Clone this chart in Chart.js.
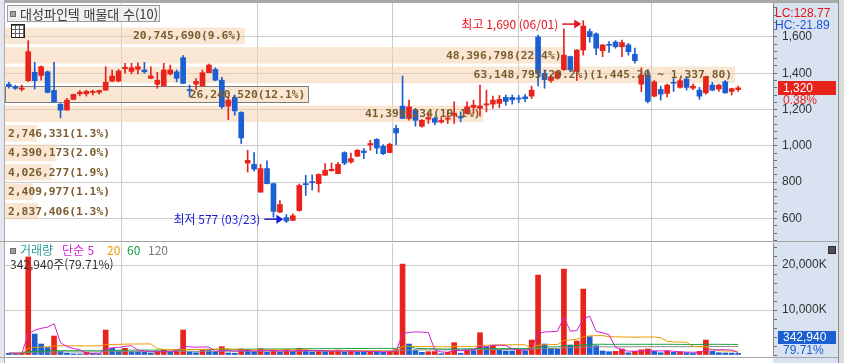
<!DOCTYPE html>
<html lang="ko">
<head>
<meta charset="utf-8">
<title>대성파인텍 매물대 수(10)</title>
<script src="https://cdn.jsdelivr.net/npm/chart.js@4"></script>
<style>
  html, body { margin: 0; padding: 0; background: #fff; }
  #wrap { position: relative; width: 844px; height: 363px; overflow: hidden; background: #fff;
    font-family: 'Noto Sans CJK KR', 'Noto Sans', sans-serif; }
  canvas { position: absolute; left: 0; }
  #price { top: 0; }
  #vol { top: 242px; }
  .abs { position: absolute; white-space: nowrap; }
  .frame-top { left: 0; top: 0; width: 844px; height: 3px; background: #a9a9a9; }
  .frame-left { left: 0; top: 0; width: 4px; height: 363px; background: #e4e7ee; border-right: 1px solid #a8acb2; }
  .frame-right { left: 838px; top: 0; width: 5px; height: 363px; background: #dadada; border-left: 1px solid #8e8e8e; }
  .sep { left: 0; width: 838px; height: 1px; background: #a4a4a4; }
  #title { left: 7px; top: 5px; height: 15px; border: 1px solid #9c9c9c; background: #f1f1f1;
    font-size: 13px; line-height: 15px; color: #3a3a3a; padding-left: 12px; width: 139px; }
  .sq { position: absolute; width: 4px; height: 4px; background: #a0a0a0; border: 1px solid #6e6e6e; }
  #gridicon { left: 11px; top: 24px; width: 12px; height: 12px; border: 1px solid #222; background-color: #fff;
    background-image: repeating-linear-gradient(90deg, transparent 0 3px, #666 3px 4px),
                      repeating-linear-gradient(0deg, transparent 0 3px, #666 3px 4px); }
  .side { font-family: 'Liberation Sans', sans-serif; font-size: 12px; line-height: 14px; }
  .leg { font-size: 12px; line-height: 14px; top: 243px; }
  .ico { width: 6px; height: 6px; background: #505050; border: 1px solid #303030; }
</style>
</head>
<body>
<div id="wrap">
  <canvas id="price" width="844" height="242"></canvas>
  <canvas id="vol" width="844" height="121"></canvas>
  <div class="abs frame-top"></div>
  <div class="abs frame-left"></div>
  <div class="abs frame-right"></div>
  <div class="abs sep" style="top:241px"></div>
  <div class="abs sep" style="top:357px"></div>

  <div id="title" class="abs"><span class="sq" style="left:2px;top:5px"></span>대성파인텍 매물대 수(10)</div>
  <div id="gridicon" class="abs"></div>

  <div class="abs side" style="left:775px;top:6px;color:#e3141c">LC:128.77</div>
  <div class="abs side" style="left:775px;top:18px;color:#1d52d9">HC:-21.89</div>

  <span class="sq" style="left:10px;top:248px"></span>
  <span class="abs leg" style="left:20px;color:#2b9b9b">거래량</span>
  <span class="abs leg" style="left:62px;color:#d21fd2">단순 5</span>
  <span class="abs leg" style="left:107px;color:#ec9a00">20</span>
  <span class="abs leg" style="left:127px;color:#18a040">60</span>
  <span class="abs leg" style="left:148px;color:#7a7a7a">120</span>
  <div id="vinfo" class="abs leg" style="left:10px;top:257px;color:#333"></div>

  <div id="vbox" class="abs side" style="left:778px;top:331px;width:53px;height:13px;line-height:13px;background:#1b5fd3;color:#fff;padding-left:5px"></div>
  <div id="vpct" class="abs side" style="left:783px;top:343px;color:#1b5fd3"></div>
  <div class="abs ico" style="left:828px;top:246px"></div>
</div>

<script>
// trading days shown (2020)
const dates = ['01/20','01/21','01/22','01/23','01/28','01/29','01/30','01/31',
  '02/03','02/04','02/05','02/06','02/07','02/10','02/11','02/12','02/13','02/14','02/17','02/18','02/19','02/20','02/21','02/24','02/25','02/26','02/27','02/28',
  '03/02','03/03','03/04','03/05','03/06','03/09','03/10','03/11','03/12','03/13','03/16','03/17','03/18','03/19','03/20','03/23','03/24','03/25','03/26','03/27','03/30','03/31',
  '04/01','04/02','04/03','04/06','04/07','04/08','04/09','04/10','04/13','04/14','04/16','04/17','04/20','04/21','04/22','04/23','04/24','04/27','04/28','04/29',
  '05/04','05/06','05/07','05/08','05/11','05/12','05/13','05/14','05/15','05/18','05/19','05/20','05/21','05/22','05/25','05/26','05/27','05/28','05/29',
  '06/01','06/02','06/03','06/04','06/05','06/08','06/09','06/10','06/11','06/12','06/15','06/16','06/17','06/18','06/19','06/22','06/23','06/24','06/25','06/26','06/29','06/30',
  '07/01','07/02','07/03'];

const opens = [1340,1325,1312,1359,1405,1388,1408,1305,1230,1197,
  1256,1287,1287,1294,1295,1307,1357,1357,1425,1410,
  1422,1418,1372,1339,1331,1396,1408,1486,1310,1340,
  1331,1403,1421,1362,1219,1267,1184,905,898,745,
  875,792,635,605,590,644,792,803,792,838,
  863,847,963,911,943,972,1005,1036,998,963,
  1096,1219,1151,1197,1108,1147,1151,1131,1147,1168,
  1160,1178,1212,1207,1225,1230,1234,1267,1267,1262,
  1270,1274,1600,1399,1360,1372,1420,1492,1410,1528,
  1630,1617,1524,1558,1572,1546,1556,1504,1340,1390,
  1274,1311,1289,1350,1322,1368,1318,1307,1292,1335,
  1313,1353,1300,1310];
const highs = [1352,1333,1335,1580,1460,1441,1412,1460,1232,1262,
  1285,1304,1307,1307,1307,1436,1418,1421,1455,1455,
  1458,1460,1436,1405,1455,1445,1418,1497,1335,1370,
  1418,1450,1430,1377,1270,1280,1188,976,963,898,
  917,795,699,622,625,790,838,840,846,902,
  906,910,968,960,980,985,1031,1040,1007,1015,
  1114,1385,1252,1206,1145,1187,1160,1156,1197,1243,
  1187,1243,1252,1335,1307,1274,1278,1280,1280,1278,
  1283,1329,1610,1418,1390,1415,1645,1495,1530,1690,
  1644,1622,1558,1574,1580,1583,1565,1538,1430,1420,
  1360,1329,1340,1375,1370,1381,1340,1322,1385,1350,
  1340,1360,1318,1330];
const lows = [1318,1311,1303,1355,1313,1362,1292,1240,1154,1197,
  1254,1275,1274,1280,1285,1305,1353,1353,1400,1396,
  1396,1400,1370,1317,1331,1390,1353,1344,1270,1310,
  1331,1403,1358,1206,1145,1169,1013,856,861,745,
  790,607,632,577,588,640,727,757,745,838,
  860,845,896,905,940,930,976,957,952,963,
  1007,1151,1141,1108,1103,1123,1116,1125,1123,1123,
  1132,1176,1178,1164,1187,1206,1210,1224,1230,1239,
  1243,1261,1330,1317,1350,1368,1415,1408,1360,1500,
  1571,1503,1491,1515,1538,1491,1500,1455,1298,1237,
  1270,1252,1270,1300,1318,1307,1310,1256,1285,1303,
  1300,1290,1280,1300];
const closes = [1328,1317,1319,1519,1359,1436,1294,1243,1197,1252,
  1283,1296,1300,1300,1305,1351,1385,1412,1433,1430,
  1436,1408,1385,1362,1418,1418,1372,1344,1305,1355,
  1403,1445,1362,1215,1252,1193,1044,920,872,875,
  792,639,677,586,615,782,786,797,843,865,
  871,898,905,930,976,963,1013,988,957,1009,
  1071,1151,1215,1141,1141,1156,1130,1140,1153,1180,
  1154,1215,1224,1220,1232,1252,1256,1245,1254,1258,
  1260,1307,1400,1365,1380,1408,1500,1420,1528,1660,
  1602,1538,1556,1554,1546,1569,1519,1469,1390,1245,
  1353,1285,1335,1345,1359,1322,1329,1274,1381,1307,
  1335,1292,1315,1320];

// volume in thousands of shares (K)
const volumes = [380,330,420,21800,4660,2440,1630,4220,740,370,
  250,220,590,220,210,5550,1480,960,1480,740,
  700,650,450,900,1150,700,1050,5550,740,500,
  1100,1000,650,1850,450,400,1330,1200,700,1400,
  650,1000,700,1200,800,1500,900,700,1000,800,
  900,1100,700,900,700,600,800,700,600,800,
  1200,20200,2440,1000,590,740,760,300,590,2740,
  400,1100,1000,4960,1700,2000,1100,900,900,1100,
  900,3330,17760,2440,1480,1260,19090,2220,3110,14650,
  4070,2070,890,740,800,1330,500,800,1150,1330,
  800,500,900,600,700,500,350,800,3330,800,
  500,450,430.24,342.94];

// volume moving averages as drawn (K)
const ma5 = [396,382,386,4666,5518,5930,6190,6950,2738,1880,
  1442,1160,434,330,298,1358,1610,1684,1936,2042,
  1072,906,804,688,770,770,850,1870,1838,1708,
  1788,1778,798,1020,1010,870,936,1046,816,1006,
  1056,990,890,990,870,1040,1020,1020,980,980,
  860,900,900,880,860,800,740,740,680,700,
  820,4700,5048,5128,5086,4994,1106,678,596,1026,
  958,1026,1166,2040,1832,2152,2152,2132,1320,1200,
  980,1426,4798,5106,5182,5254,8406,5298,5432,8066,
  8628,5224,4958,4484,1714,1166,852,834,916,1022,
  916,916,936,826,700,640,610,590,1136,1156,
  1156,1176,1102,505];
const ma20 = [399,396,397,1467,1680,1782,1843,2034,2051,2050,
  2042,2033,2043,2034,2024,2282,2336,2364,2418,2435,
  2451,2467,2468,1423,1248,1161,1132,1198,1198,1205,
  1247,1286,1289,1371,1383,1125,1118,1130,1091,1124,
  1121,1139,1151,1166,1149,1189,1181,939,952,967,
  957,962,964,917,929,939,913,888,883,853,
  880,1840,1927,1917,1907,1869,1862,1842,1821,1918,
  1893,1893,1908,2111,2161,2231,2246,2256,2271,2286,
  2271,1428,2194,2266,2310,2336,3253,3349,3475,4070,
  4254,4302,4297,4086,4041,4007,3977,3972,3985,3996,
  3991,3850,3007,2915,2876,2838,1901,1830,1841,1148,
  970,889,866,846];
const ma60 = [400,399,399,756,827,861,881,945,950,950,
  947,944,948,945,941,1027,1045,1055,1073,1078,
  1083,1087,1088,1097,1109,1114,1125,1211,1216,1218,
  1230,1240,1244,1268,1269,1269,1284,1298,1303,1319,
  1324,1334,1339,1352,1359,1377,1385,1390,1400,1407,
  1415,1427,1432,1440,1445,1449,1455,1460,1464,1470,
  1484,1815,1849,1502,1434,1406,1391,1326,1324,1363,
  1366,1380,1387,1466,1491,1432,1425,1424,1415,1421,
  1424,1469,1757,1783,1788,1798,2098,2043,2082,2318,
  2368,2386,2390,2371,2377,2392,2379,2372,2379,2378,
  2381,2372,2376,2366,2364,2347,2338,2340,2379,2379,
  2372,2361,2357,2347];
const ma120 = [400,399,399,578,613,630,641,672,675,675,
  674,672,674,672,671,714,723,727,736,739,
  742,744,744,748,755,757,762,805,808,809,
  815,820,822,834,834,834,842,849,851,860,
  862,867,869,876,879,888,893,895,900,903,
  908,913,916,920,923,924,928,930,932,935,
  942,1107,1124,1129,1130,1133,1136,1135,1137,1156,
  1156,1162,1167,1205,1216,1229,1235,1239,1244,1249,
  1254,1278,1423,1440,1449,1456,1612,1627,1649,1768,
  1799,1813,1817,1820,1823,1831,1831,1835,1841,1849,
  1852,1853,1857,1859,1861,1862,1862,1865,1889,1893,
  1894,1894,1894,1894];

// volume profile (매물대): price band edges and traded volume per band, low -> high
const profileEdges = [586, 693.4, 800.8, 908.2, 1015.6, 1123, 1230.4, 1337.8, 1445.2, 1552.6, 1660];
const profileVolumes = [2837406, 2409977, 4026277, 4390173, 2746331, 41390234, 26240520, 63148795, 48396798, 20745690];

const priceTicks = [600, 800, 1000, 1200, 1400, 1600];
const volumeTicks = [10000, 20000];

const UP = '#e8231b', DOWN = '#1b5fd3', GRID = '#c9ccc9', AXIS_BG = '#d8e2f1';
const BAND = 'rgba(244, 212, 176, 0.55)', BAND_TEXT = '#7b5d2f';

Chart.defaults.font.family = "'Liberation Sans', sans-serif";
Chart.defaults.animation = false;

const candleColors = closes.map((c, i) => c >= opens[i] ? UP : DOWN);
const volColors = volumes.map((v, i) => i > 0 && v > volumes[i - 1] ? UP : DOWN);
const monthStarts = dates.map((d, i) => i > 0 && d.slice(0, 2) !== dates[i - 1].slice(0, 2) ? i - 0.5 : null)
  .filter(v => v !== null);
const fmt2 = v => v.toLocaleString('en-US', { minimumFractionDigits: 2, maximumFractionDigits: 2 });

function flatX(a) { a.height = 0; a.paddingLeft = 0; a.paddingRight = 0; }

function xAxis() {
  return {
    type: 'linear', min: -0.6, max: 118.4, offset: false,
    grid: { color: GRID, drawTicks: false },
    border: { display: false },
    ticks: { display: false },
    afterBuildTicks: a => { a.ticks = monthStarts.map(v => ({ value: v })); },
    afterFit: flatX
  };
}

function rightAxis(min, max, step, labels, fmt) {
  return {
    position: 'right', min, max,
    afterBuildTicks: a => {
      const t = [];
      for (let v = Math.ceil(min / step) * step; v <= max; v += step) t.push({ value: v });
      a.ticks = t;
    },
    afterFit: a => { a.width = 71; a.paddingTop = 0; a.paddingBottom = 0; },
    grid: {
      color: c => labels.includes(c.tick.value) ? GRID : 'rgba(0,0,0,0)',
      tickColor: '#6e6e6e', tickLength: 4
    },
    border: { color: '#8a8a8a' },
    ticks: { autoSkip: false, padding: 5, color: '#333', font: { size: 12 },
      callback: v => labels.includes(v) ? fmt(v) : '' }
  };
}

// light blue axis panel on the right
const axisPanel = {
  id: 'axisPanel',
  beforeDraw(chart) {
    const { ctx, chartArea, width, height } = chart;
    ctx.save();
    ctx.fillStyle = AXIS_BG;
    ctx.fillRect(chartArea.right, 0, width - chartArea.right, height);
    ctx.restore();
  }
};

function bandGeom(chart, i) {
  const { chartArea, scales: { y, xv } } = chart;
  const top = y.getPixelForValue(profileEdges[i + 1]) + 1.5;
  const bot = y.getPixelForValue(profileEdges[i]) - 1.5;
  return { left: chartArea.left, right: xv.getPixelForValue(profileVolumes[i]), top, bot };
}

const volumeProfile = {
  id: 'volumeProfile',
  beforeDatasetsDraw(chart) {
    const { ctx } = chart;
    const last = closes[closes.length - 1];
    ctx.save();
    profileVolumes.forEach((v, i) => {
      const g = bandGeom(chart, i);
      ctx.fillStyle = BAND;
      ctx.fillRect(g.left, g.top, g.right - g.left, g.bot - g.top);
      if (last >= profileEdges[i] && last < profileEdges[i + 1]) {
        ctx.strokeStyle = '#7c7c7c';
        ctx.lineWidth = 1;
        ctx.strokeRect(Math.round(g.left) + 0.5, Math.round(g.top) + 0.5, Math.round(g.right - g.left), Math.round(g.bot - g.top));
      }
    });
    ctx.restore();
  },
  afterDatasetsDraw(chart) {
    const { ctx } = chart;
    const total = profileVolumes.reduce((a, b) => a + b, 0);
    const maxIdx = profileVolumes.indexOf(Math.max(...profileVolumes));
    ctx.save();
    ctx.font = "bold 11.3px 'DejaVu Sans Mono'";
    ctx.textBaseline = 'middle';
    ctx.fillStyle = BAND_TEXT;
    profileVolumes.forEach((v, i) => {
      const g = bandGeom(chart, i);
      let label = v.toLocaleString('en-US') + '(' + (v / total * 100).toFixed(1) + '%)';
      if (i === maxIdx) label += '(' + fmt2(profileEdges[i + 1]) + ' ~ ' + fmt2(profileEdges[i]) + ')';
      const w = ctx.measureText(label).width;
      const cy = (g.top + g.bot) / 2 + 0.5;
      if (g.right - g.left > w + 8) { ctx.textAlign = 'right'; ctx.fillText(label, g.right - 3, cy); }
      else { ctx.textAlign = 'left'; ctx.fillText(label, g.left + 3, cy); }
    });
    ctx.restore();
  }
};

function marker(ctx, tip, yy, color, text) {
  ctx.strokeStyle = color;
  ctx.fillStyle = color;
  ctx.lineWidth = 1.5;
  ctx.beginPath(); ctx.moveTo(tip - 19, yy); ctx.lineTo(tip - 6, yy); ctx.stroke();
  ctx.beginPath(); ctx.moveTo(tip - 7, yy - 4.5); ctx.lineTo(tip, yy); ctx.lineTo(tip - 7, yy + 4.5); ctx.closePath(); ctx.fill();
  ctx.textAlign = 'right';
  ctx.fillText(text, tip - 23, yy);
}

// 최고 / 최저 markers + current price box
const annotations = {
  id: 'annotations',
  afterDraw(chart) {
    const { ctx, chartArea, scales: { x, y } } = chart;
    const hi = highs.indexOf(Math.max(...highs));
    const lo = lows.indexOf(Math.min(...lows));
    ctx.save();
    ctx.font = "12px 'Noto Sans CJK KR'";
    ctx.textBaseline = 'middle';
    marker(ctx, x.getPixelForValue(hi) - 2, y.getPixelForValue(highs[hi]) + 3.5, '#e8101a',
      '최고 ' + highs[hi].toLocaleString('en-US') + ' (' + dates[hi] + ')');
    marker(ctx, x.getPixelForValue(lo) - 3, y.getPixelForValue(lows[lo]) - 3.5, '#1a1ad8',
      '최저 ' + lows[lo].toLocaleString('en-US') + ' (' + dates[lo] + ')');

    const n = closes.length, c = closes[n - 1], prev = closes[n - 2];
    const py = Math.round(y.getPixelForValue(c));
    const col = c >= prev ? UP : DOWN;
    ctx.fillStyle = col;
    ctx.fillRect(chartArea.right + 5, py - 7, 58, 14);
    ctx.font = "12px 'Liberation Sans'";
    ctx.textAlign = 'left';
    ctx.fillStyle = '#fff';
    ctx.fillText(c.toLocaleString('en-US'), chartArea.right + 10, py + 0.5);
    ctx.fillStyle = col;
    ctx.fillText(((c - prev) / prev * 100).toFixed(2) + '%', chartArea.right + 10, py + 13);
    ctx.restore();
  }
};

new Chart(document.getElementById('price'), {
  type: 'bar',
  data: {
    datasets: [
      { label: 'wick', data: dates.map((d, i) => ({ x: i, y: [lows[i], highs[i]] })),
        backgroundColor: candleColors, barThickness: 1, grouped: false, order: 2, borderWidth: 0 },
      { label: 'body', data: dates.map((d, i) => ({ x: i, y: [opens[i], closes[i]] })),
        backgroundColor: candleColors, barThickness: 5, minBarLength: 1, grouped: false, order: 1, borderWidth: 0 }
    ]
  },
  options: {
    responsive: false,
    events: [],
    layout: { padding: { left: 5, top: 3, right: 0, bottom: 1 } },
    plugins: { legend: { display: false }, tooltip: { enabled: false } },
    scales: {
      x: xAxis(),
      // horizontal scale of the volume-profile bars
      xv: { type: 'linear', position: 'bottom', min: 0, max: 66.43e6, offset: false,
        grid: { display: false, offset: false }, border: { display: false }, ticks: { display: false },
        afterFit: flatX },
      y: rightAxis(476, 1787, 40, priceTicks, v => v.toLocaleString('en-US'))
    }
  },
  plugins: [axisPanel, volumeProfile, annotations]
});

const line = (data, color) => ({
  type: 'line', data: data.map((v, i) => ({ x: i, y: v })), borderColor: color,
  borderWidth: 1, pointRadius: 0, tension: 0, order: 0
});

new Chart(document.getElementById('vol'), {
  type: 'bar',
  data: {
    datasets: [
      line(ma5, '#d21fd2'),
      line(ma20, '#ec9a00'),
      line(ma60, '#18a040'),
      line(ma120, '#8a8a8a'),
      { type: 'bar', label: '거래량', data: volumes.map((v, i) => ({ x: i, y: v })),
        backgroundColor: volColors, barThickness: 5, borderWidth: 0, order: 5 }
    ]
  },
  options: {
    responsive: false,
    events: [],
    layout: { padding: { left: 5, top: 1, right: 0, bottom: 8 } },
    plugins: { legend: { display: false }, tooltip: { enabled: false } },
    scales: {
      x: xAxis(),
      y: rightAxis(0, 24889, 2000, volumeTicks, v => v.toLocaleString('en-US') + 'K')
    }
  },
  plugins: [axisPanel]
});

// current volume text
const nv = volumes.length;
const lastVol = Math.round(volumes[nv - 1] * 1000).toLocaleString('en-US');
const volRatio = (volumes[nv - 1] / volumes[nv - 2] * 100).toFixed(2) + '%';
document.getElementById('vinfo').textContent = lastVol + '주(' + volRatio + ')';
document.getElementById('vbox').textContent = lastVol;
document.getElementById('vpct').textContent = volRatio;
</script>
</body>
</html>
